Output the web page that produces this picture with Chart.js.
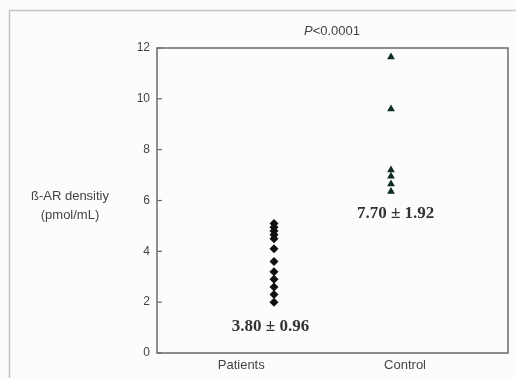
<!DOCTYPE html>
<html>
<head>
<meta charset="utf-8">
<script src="https://cdn.jsdelivr.net/npm/chart.js@4/dist/chart.umd.min.js"></script>
<style>
  html, body { margin: 0; padding: 0; background: #fcfcfc; }
  #wrap { position: relative; width: 516px; height: 378px; }
</style>
</head>
<body>
<div id="wrap"><canvas id="mainChart" width="516" height="378"></canvas></div>
<script>
// --- Data ---
const groups = ['Patients', 'Control'];
const groupX = [1, 2];
const groupLabelX = [0.72, 2.12];
const patientValues = [5.1, 4.95, 4.8, 4.65, 4.5, 4.1, 3.6, 3.2, 2.9, 2.6, 2.3, 2.0];
const controlValues = [11.65, 9.6, 7.2, 6.95, 6.65, 6.35];
const yTicks = [0, 2, 4, 6, 8, 10, 12];
const meanLabels = ['3.80 \u00B1 0.96', '7.70 \u00B1 1.92'];
const meanLabelPos = [[0.97, 1.05], [2.04, 5.5]];
const titleText = 'P<0.0001';
const yTitle = ['\u00DF-AR densitiy', '(pmol/mL)'];

const sans = '"Liberation Sans", Arial, sans-serif';

// --- Extra drawing: frame, inward ticks, titles, mean labels ---
const extrasPlugin = {
    id: 'extras',
    afterDraw(chart) {
        const ctx = chart.ctx;
        const xs = chart.scales.x;
        const ys = chart.scales.y;
        const area = chart.chartArea;
        ctx.save();

        // outer frame
        ctx.strokeStyle = '#c4c4c4';
        ctx.lineWidth = 1.5;
        ctx.beginPath();
        ctx.moveTo(9.5, 378);
        ctx.lineTo(9.5, 10.5);
        ctx.lineTo(516, 10.5);
        ctx.stroke();

        // plot box
        ctx.strokeStyle = '#6a6a6a';
        ctx.lineWidth = 1.5;
        ctx.strokeRect(area.left, area.top, area.right - area.left, area.bottom - area.top);

        // inward tick marks
        ctx.lineWidth = 1.2;
        yTicks.forEach(v => {
            const py = ys.getPixelForValue(v);
            ctx.beginPath();
            ctx.moveTo(area.left, py);
            ctx.lineTo(area.left + 5, py);
            ctx.stroke();
        });

        // title
        ctx.fillStyle = '#444';
        ctx.textBaseline = 'middle';
        ctx.font = 'italic 13px ' + sans;
        const pW = ctx.measureText('P').width;
        ctx.font = '13px ' + sans;
        const restW = ctx.measureText(titleText.slice(1)).width;
        const tx = 332 - (pW + restW) / 2;
        ctx.textAlign = 'left';
        ctx.font = 'italic 13px ' + sans;
        ctx.fillText('P', tx, 31);
        ctx.font = '13px ' + sans;
        ctx.fillText(titleText.slice(1), tx + pW, 31);

        // y title
        ctx.textAlign = 'center';
        ctx.font = '13px ' + sans;
        ctx.fillText(yTitle[0], 70, 196);
        ctx.fillText(yTitle[1], 70, 215);

        // mean labels
        ctx.fillStyle = '#333';
        ctx.font = 'bold 17px "Liberation Serif", "Times New Roman", serif';
        meanLabels.forEach((txt, i) => {
            const px = xs.getPixelForValue(meanLabelPos[i][0]);
            const py = ys.getPixelForValue(meanLabelPos[i][1]);
            ctx.fillText(txt, px, py);
        });

        ctx.restore();
    }
};

// --- Chart ---
const ctx = document.getElementById('mainChart').getContext('2d');
const mainChart = new Chart(ctx, {
    type: 'scatter',
    data: {
        datasets: [
            {
                label: groups[0],
                data: patientValues.map(v => ({ x: groupX[0], y: v })),
                pointStyle: 'rectRot',
                pointRadius: 4.5,
                backgroundColor: '#111',
                borderColor: '#111',
                borderWidth: 0
            },
            {
                label: groups[1],
                data: controlValues.map(v => ({ x: groupX[1], y: v })),
                pointStyle: 'triangle',
                pointRadius: 4.5,
                backgroundColor: '#0e2b22',
                borderColor: '#0e2b22',
                borderWidth: 0
            }
        ]
    },
    options: {
        responsive: false,
        animation: false,
        layout: { padding: { top: 48, right: 8, left: 0, bottom: 0 } },
        plugins: {
            legend: { display: false },
            tooltip: { enabled: false }
        },
        scales: {
            x: {
                type: 'linear',
                min: 0,
                max: 3,
                border: { display: false },
                grid: { display: false, drawTicks: false },
                afterBuildTicks: (scale) => {
                    scale.ticks = groupLabelX.map(v => ({ value: v }));
                },
                afterFit: (scale) => { scale.height = 25; },
                ticks: {
                    autoSkip: false,
                    maxRotation: 0,
                    padding: 5,
                    color: '#444',
                    font: { family: sans, size: 13 },
                    callback: (value, i) => groups[i]
                }
            },
            y: {
                min: 0,
                max: 12,
                border: { display: false },
                grid: { display: false, drawTicks: false },
                afterBuildTicks: (scale) => {
                    scale.ticks = yTicks.map(v => ({ value: v }));
                },
                afterFit: (scale) => { scale.width = 157; },
                ticks: {
                    padding: 7,
                    color: '#444',
                    font: { family: sans, size: 12 }
                }
            }
        }
    },
    plugins: [extrasPlugin]
});
</script>
</body>
</html>
